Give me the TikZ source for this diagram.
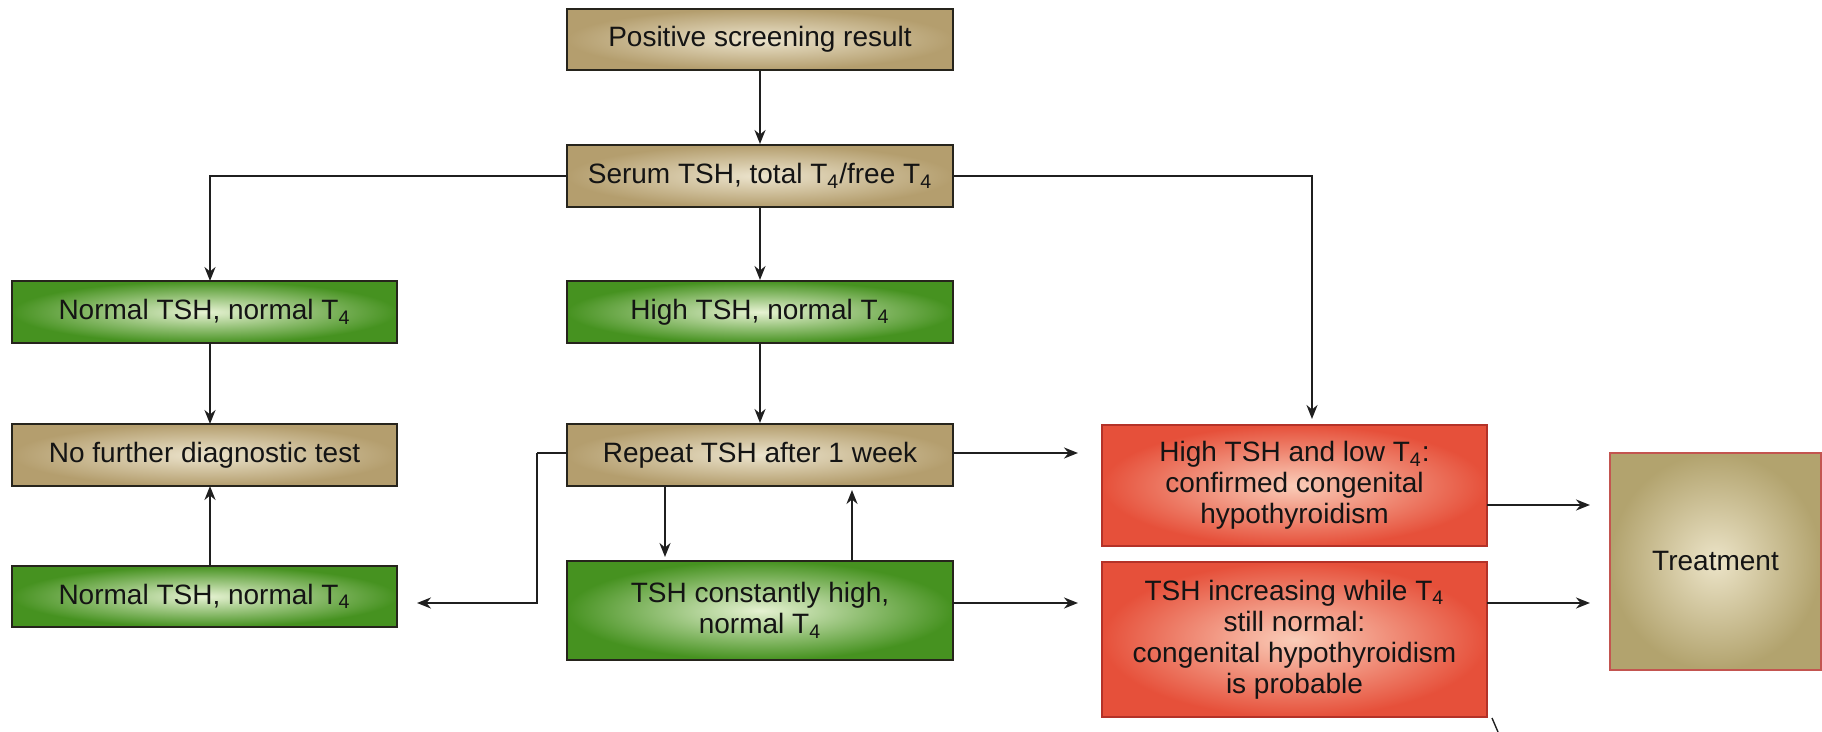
\documentclass[tikz,border=0pt]{standalone}
\usepackage{fontspec}
\setmainfont{Liberation Sans}
\usetikzlibrary{arrows.meta}
\definecolor{tanout}{RGB}{180,158,110}
\definecolor{tanin}{RGB}{236,228,205}
\definecolor{grnout}{RGB}{70,146,32}
\definecolor{grnin}{RGB}{230,242,210}
\definecolor{redout}{RGB}{230,80,58}
\definecolor{redin}{RGB}{250,205,185}
\definecolor{trout}{RGB}{178,163,110}
\definecolor{trin}{RGB}{236,228,200}
\definecolor{bord}{RGB}{38,36,28}
\definecolor{redbord}{RGB}{180,50,40}
\definecolor{trbord}{RGB}{195,85,80}
\begin{document}
\begin{tikzpicture}[x=0.5pt,y=-0.5pt,
  base/.style={rectangle, inner sep=2pt, align=center, line width=1pt,
    font=\fontsize{14}{15.5}\selectfont, text=black!92},
  tanbox/.style={base, draw=bord, inner color=tanin, outer color=tanout},
  grnbox/.style={base, draw=bord, inner color=grnin, outer color=grnout},
  redbox/.style={base, draw=redbord, inner color=redin, outer color=redout},
  trbox/.style={base, draw=trbord, line width=1.1pt, inner color=trin, outer color=trout},
  wide/.style={minimum width=193pt},
  conn/.style={line width=1.05pt, draw=black!88},
  arr/.style={conn, -{Stealth[length=7pt,width=5.5pt]}}
]
\useasboundingbox (0,0) rectangle (1822,732);
\fill[white] (0,0) rectangle (1822,732);

\node[tanbox, wide, minimum height=30.5pt] (pos) at (760,39.5) {Positive screening result};
\node[tanbox, wide, minimum height=31pt] (serum) at (760,176) {Serum TSH, total T\textsubscript{4}/free T\textsubscript{4}};
\node[grnbox, minimum width=192.5pt, minimum height=31pt] (norm1) at (204.5,312) {Normal TSH, normal T\textsubscript{4}};
\node[grnbox, wide, minimum height=31pt] (high) at (760,312) {High TSH, normal T\textsubscript{4}};
\node[tanbox, minimum width=192.5pt, minimum height=31pt] (nofurther) at (204.5,455) {No further diagnostic test};
\node[tanbox, wide, minimum height=31pt] (repeat) at (760,455) {Repeat TSH after 1 week};
\node[grnbox, minimum width=192.5pt, minimum height=30.5pt] (norm2) at (204.5,596.5) {Normal TSH, normal T\textsubscript{4}};
\node[grnbox, wide, minimum height=49.5pt] (const) at (760,610.5) {TSH constantly high,\\normal T\textsubscript{4}};
\node[redbox, minimum width=192.5pt, minimum height=60.5pt] (red1) at (1294.5,485.5) {High TSH and low T\textsubscript{4}:\\confirmed congenital\\hypothyroidism};
\node[redbox, minimum width=192.5pt, minimum height=77.5pt] (red2) at (1294.5,639.5) {TSH increasing while T\textsubscript{4}\\still normal:\\congenital hypothyroidism\\is probable};
\node[trbox, minimum width=105.5pt, minimum height=108.5pt] (treat) at (1715.5,561.5) {Treatment};

% top chain
\draw[arr] (pos.south) -- (serum.north);
\draw[arr] (serum.south) -- (high.north);
\draw[arr] (high.south) -- (repeat.north);
\coordinate (n1top) at (210,281);
\draw[arr] (serum.west) -| (n1top);
\coordinate (r1top) at (1312,425);
\draw[arr, shorten >=3pt] (serum.east) -| (r1top);
\coordinate (n1bot) at (210,343);
\coordinate (nftop) at (210,424);
\coordinate (nfbot) at (210,486);
\coordinate (n2top) at (210,566);
\draw[arr] (n1bot) -- (nftop);
\draw[arr] (n2top) -- (nfbot);

% repeat loop
\coordinate (repW) at (567,453);
\coordinate (repE) at (953,453);
\coordinate (r1W) at (1102,453);
\coordinate (bendL) at (537,453);
\coordinate (n2E) at (397,603);
\draw[conn] (repW) -- (bendL);
\draw[arr, shorten >=10pt] (bendL) |- (n2E);
\draw[arr, shorten >=12pt] (repE) -- (r1W);

\coordinate (repS1) at (665,486);
\coordinate (conN1) at (665,561);
\coordinate (repS2) at (852,486);
\coordinate (conN2) at (852,561);
\draw[arr, shorten >=2pt] (repS1) -- (conN1);
\draw[arr, shorten >=2pt] (conN2) -- (repS2);

\coordinate (conE) at (953,603);
\coordinate (r2W) at (1102,603);
\draw[arr, shorten >=12pt] (conE) -- (r2W);

\coordinate (r1E) at (1487,505);
\coordinate (trW1) at (1610,505);
\coordinate (r2E) at (1487,603);
\coordinate (trW2) at (1610,603);
\draw[arr, shorten >=10pt] (r1E) -- (trW1);
\draw[arr, shorten >=10pt] (r2E) -- (trW2);

% small tick below red box
\draw[conn, line width=0.7pt] (red2.south east) ++(4,0) -- ++(6,14);
\end{tikzpicture}
\end{document}
